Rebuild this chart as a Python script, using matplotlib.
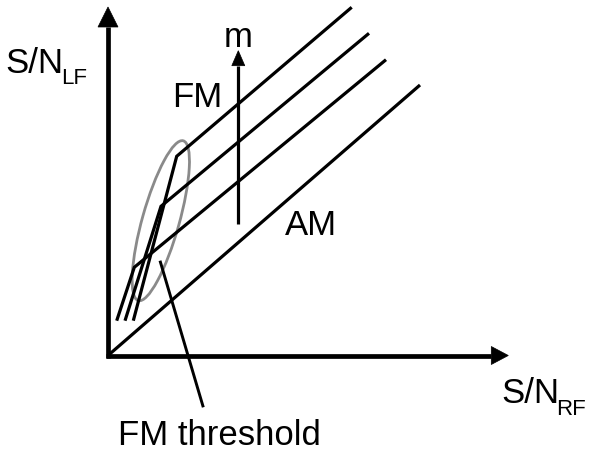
import matplotlib
matplotlib.use("Agg")
import matplotlib.pyplot as plt
from matplotlib.patches import Ellipse, Polygon
import numpy as np

plt.rcParams['font.family'] = ['Liberation Sans', 'DejaVu Sans']

# ---- schematic data (units: relative S/N, origin at axis corner) ----
am_x = [0, 312]
am_y = [0, 270.5]

# three FM curves (low, mid, high modulation index m): steep threshold part, knee, linear part
fm_low_x = [8.7, 26.3, 278]
fm_low_y = [34.8, 88.2, 295.8]
fm_mid_x = [17, 53, 261]
fm_mid_y = [34.8, 149.2, 322.2]
fm_high_x = [25.3, 68.7, 243.7]
fm_high_y = [34.8, 199.2, 348.2]

# threshold ellipse and pointer
thr_center = (52.8, 134.8)
thr_size = (166, 37)
thr_angle = 74.3
pointer_x = [52, 95.3]
pointer_y = [94.8, -51.8]

# m arrow
m_x = 130.3
m_y = [131.5, 304.8]

# axes extents
x_axis_end = 400.3
y_axis_end = 348.5

fig = plt.figure(figsize=(5.89, 4.52), dpi=100)
ax = fig.add_axes([0, 0, 1, 1])
ax.set_xlim(-108, 481)
ax.set_ylim(-95.5, 356.5)
ax.axis('off')

def arrow(ax, x0, y0, x1, y1, lw, hl, hw):
    d = np.array([x1 - x0, y1 - y0], float)
    L = np.hypot(*d)
    u = d / L
    n = np.array([-u[1], u[0]])
    base = np.array([x1, y1]) - u * hl
    ax.plot([x0, base[0]], [y0, base[1]], color='black', lw=lw, solid_capstyle='butt')
    tri = [(x1, y1), tuple(base + n * hw), tuple(base - n * hw)]
    ax.add_patch(Polygon(tri, closed=True, facecolor='black', edgecolor='black', lw=0.5))

# axes
arrow(ax, 0, -2, 0, y_axis_end, 3.4, 20, 10)
arrow(ax, -2, 0, x_axis_end, 0, 3.4, 17, 9)

# curves
ax.plot(am_x, am_y, color='black', lw=2.3, solid_capstyle='butt')
for xs, ys in [(fm_low_x, fm_low_y), (fm_mid_x, fm_mid_y), (fm_high_x, fm_high_y)]:
    ax.plot(xs, ys, color='black', lw=2.3, solid_capstyle='butt', solid_joinstyle='miter')

# threshold ellipse
ax.add_patch(Ellipse(thr_center, thr_size[0], thr_size[1], angle=thr_angle,
                     fill=False, edgecolor='#8a8a8a', lw=2.0))
ax.plot(pointer_x, pointer_y, color='black', lw=2.1, solid_capstyle='butt')

# m arrow
arrow(ax, m_x, m_y[0], m_x, m_y[1], 2.3, 15, 6.5)

fs = 25
def T(px, py, s, size=fs, **kw):
    ax.text(px - 108, 356.5 - py, s, fontsize=size, va='baseline', ha='left', **kw)

T(117.5, 445.5, 'FM threshold')
T(172.5, 106.7, 'FM')
T(284.5, 235, 'AM')
ax.text(238.3 - 108, 356.5 - 46.7, 'm', fontsize=fs, va='baseline', ha='center')
T(5, 73.3, 'S/N')
T(61.5, 83.5, 'LF', size=16)
T(501, 403.3, 'S/N')
T(556.5, 415, 'RF', size=16)

fig.savefig('out.png', dpi=100)
